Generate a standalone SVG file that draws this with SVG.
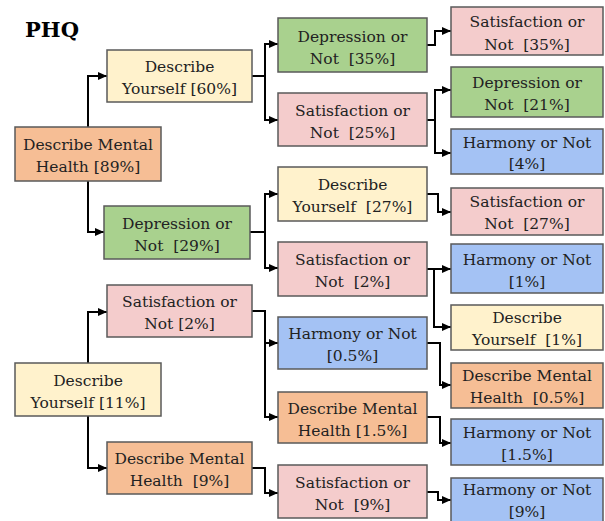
<svg xmlns="http://www.w3.org/2000/svg" width="605" height="521" viewBox="0 0 605 521">
<defs>
<style>
.box{stroke:#5a5a5a;stroke-width:1.5}
.or{fill:#F6BE95}
.ye{fill:#FFF2CC}
.gr{fill:#A9D18E}
.pk{fill:#F4CCCC}
.bl{fill:#A4C2F4}
text{font-family:'DejaVu Serif', serif;font-size:15.5px;fill:#222;text-anchor:middle;white-space:pre}
.title{font-size:21px;font-weight:bold;text-anchor:start;fill:#000}
.c{fill:none;stroke:#000;stroke-width:2;marker-end:url(#ah)}
</style>
<marker id="ah" markerUnits="userSpaceOnUse" markerWidth="9" markerHeight="8" refX="9" refY="4" orient="auto">
<path d="M0,0 L9,4 L0,8 z" fill="#000"/>
</marker>
</defs>
<rect width="605" height="521" fill="#fff"/>
<text class="title" x="25" y="37">PHQ</text>

<g id="connectors">
<path class="c" d="M88,127 V76 H107"/>
<path class="c" d="M88,181 V232 H104"/>
<path class="c" d="M252,76 H265 V44 H278"/>
<path class="c" d="M252,76 H265 V120 H278"/>
<path class="c" d="M427,45 H435 V31 H451"/>
<path class="c" d="M427,120 H435 V90 H451"/>
<path class="c" d="M427,120 H435 V153 H451"/>
<path class="c" d="M250,232 H265 V194 H278"/>
<path class="c" d="M250,232 H265 V268 H278"/>
<path class="c" d="M427,194 H438 V212 H451"/>
<path class="c" d="M427,269 H451"/>
<path class="c" d="M427,269 H434 V327 H451"/>
<path class="c" d="M427,343 H440 V385 H451"/>
<path class="c" d="M427,417 H440 V443 H451"/>
<path class="c" d="M427,492 H438 V500 H451"/>
<path class="c" d="M88,363 V312 H107"/>
<path class="c" d="M88,416 V468 H107"/>
<path class="c" d="M252,311 H265 V343 H278"/>
<path class="c" d="M252,311 H265 V417 H278"/>
<path class="c" d="M252,468 H265 V493 H278"/>
</g>

<g id="n0"><rect class="box or" x="15" y="127" width="146" height="54"/><text x="88" y="150">Describe Mental</text><text x="88" y="172">Health [89%]</text></g>
<g id="n1"><rect class="box ye" x="15" y="363" width="146" height="53"/><text x="88" y="386">Describe</text><text x="88" y="408">Yourself [11%]</text></g>
<g id="n2"><rect class="box ye" x="107" y="50" width="145" height="52"/><text x="179.5" y="72">Describe</text><text x="179.5" y="94">Yourself [60%]</text></g>
<g id="n3"><rect class="box gr" x="104" y="206" width="146" height="53"/><text x="177" y="229">Depression or</text><text x="177" y="251">Not  [29%]</text></g>
<g id="n4"><rect class="box pk" x="107" y="285" width="145" height="52"/><text x="179.5" y="307">Satisfaction or</text><text x="179.5" y="329">Not [2%]</text></g>
<g id="n5"><rect class="box or" x="107" y="442" width="145" height="52"/><text x="179.5" y="464">Describe Mental</text><text x="179.5" y="486">Health  [9%]</text></g>
<g id="n6"><rect class="box gr" x="278" y="18" width="149" height="54"/><text x="352.5" y="42">Depression or</text><text x="352.5" y="64">Not  [35%]</text></g>
<g id="n7"><rect class="box pk" x="278" y="93" width="149" height="53"/><text x="352.5" y="116">Satisfaction or</text><text x="352.5" y="138">Not  [25%]</text></g>
<g id="n8"><rect class="box ye" x="278" y="167" width="149" height="54"/><text x="352.5" y="190">Describe</text><text x="352.5" y="212">Yourself  [27%]</text></g>
<g id="n9"><rect class="box pk" x="278" y="242" width="149" height="54"/><text x="352.5" y="265">Satisfaction or</text><text x="352.5" y="287">Not  [2%]</text></g>
<g id="n10"><rect class="box bl" x="278" y="317" width="149" height="52"/><text x="352.5" y="339">Harmony or Not</text><text x="352.5" y="361">[0.5%]</text></g>
<g id="n11"><rect class="box or" x="278" y="392" width="149" height="51"/><text x="352.5" y="414">Describe Mental</text><text x="352.5" y="436">Health [1.5%]</text></g>
<g id="n12"><rect class="box pk" x="278" y="465" width="149" height="53"/><text x="352.5" y="488">Satisfaction or</text><text x="352.5" y="510">Not  [9%]</text></g>
<g id="n13"><rect class="box pk" x="451" y="7" width="152" height="48"/><text x="527" y="27">Satisfaction or</text><text x="527" y="50">Not  [35%]</text></g>
<g id="n14"><rect class="box gr" x="451" y="67" width="152" height="50"/><text x="527" y="88">Depression or</text><text x="527" y="110">Not  [21%]</text></g>
<g id="n15"><rect class="box bl" x="451" y="129" width="152" height="45"/><text x="527" y="148">Harmony or Not</text><text x="527" y="169">[4%]</text></g>
<g id="n16"><rect class="box pk" x="451" y="188" width="152" height="47"/><text x="527" y="207">Satisfaction or</text><text x="527" y="229">Not  [27%]</text></g>
<g id="n17"><rect class="box bl" x="451" y="244" width="152" height="49"/><text x="527" y="265">Harmony or Not</text><text x="527" y="287">[1%]</text></g>
<g id="n18"><rect class="box ye" x="451" y="305" width="152" height="45"/><text x="527" y="323">Describe</text><text x="527" y="345">Yourself  [1%]</text></g>
<g id="n19"><rect class="box or" x="451" y="363" width="152" height="45"/><text x="527" y="381">Describe Mental</text><text x="527" y="403">Health  [0.5%]</text></g>
<g id="n20"><rect class="box bl" x="451" y="419" width="152" height="46"/><text x="527" y="438">Harmony or Not</text><text x="527" y="460">[1.5%]</text></g>
<g id="n21"><rect class="box bl" x="451" y="478" width="152" height="60"/><text x="527" y="495">Harmony or Not</text><text x="527" y="517">[9%]</text></g>
</svg>
